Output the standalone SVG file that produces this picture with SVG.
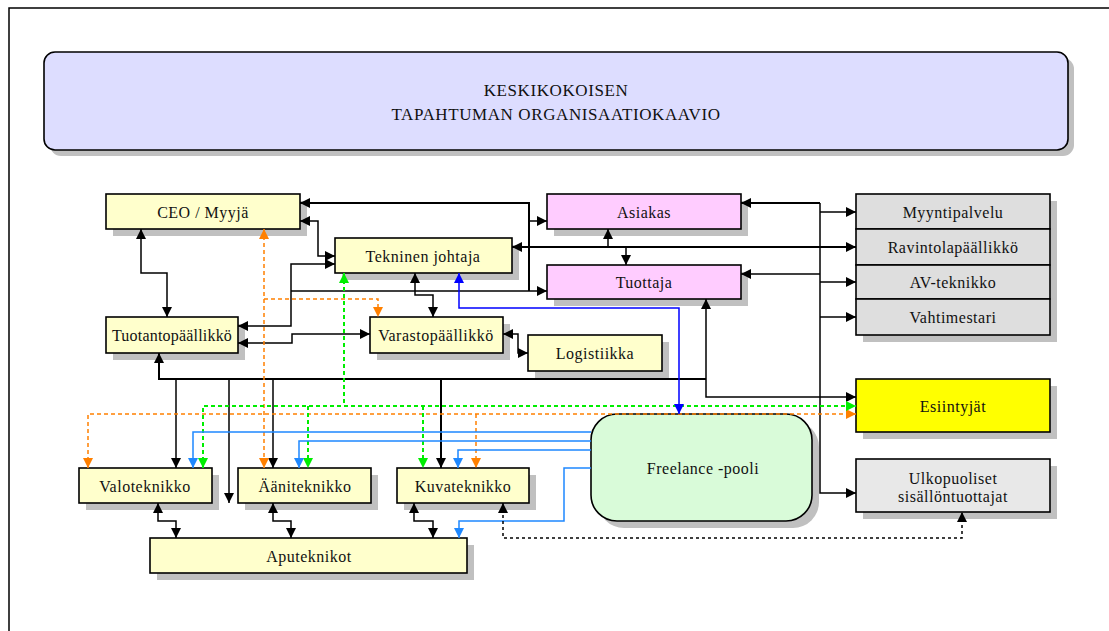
<svg xmlns="http://www.w3.org/2000/svg" width="1109" height="631" viewBox="0 0 1109 631">
<defs>
<style>
.box{stroke:#000;stroke-width:1.6}
.y{fill:#FFFFCC}
.p{fill:#FFCCFF}
.g{fill:#DEDEDE}
.lg{fill:#E8E8E8}
.sh{fill:#C0C0C0}
text{font-family:"Liberation Serif","Times New Roman",serif;font-size:16px;letter-spacing:0.5px;fill:#111;text-anchor:middle;dominant-baseline:central}
.k{fill:none;stroke:#000;stroke-width:1.5}
.k2{fill:none;stroke:#000;stroke-width:2}
.o{fill:none;stroke:#FF8000;stroke-width:1.5;stroke-dasharray:4 3}
.gr{fill:none;stroke:#00EE00;stroke-width:2;stroke-dasharray:4 3}
.b{fill:none;stroke:#1E88FF;stroke-width:1.5}
.db{fill:none;stroke:#0000FF;stroke-width:1.5}
.d{fill:none;stroke:#000;stroke-width:1.5;stroke-dasharray:3 3}
</style>
<marker id="ak" viewBox="0 0 10 10" refX="10" refY="5" markerWidth="11" markerHeight="10" markerUnits="userSpaceOnUse" orient="auto"><path d="M0,0L10,5L0,10z" fill="#000"/></marker>
<marker id="aks" viewBox="0 0 10 10" refX="0" refY="5" markerWidth="11" markerHeight="10" markerUnits="userSpaceOnUse" orient="auto"><path d="M10,0L0,5L10,10z" fill="#000"/></marker>
<marker id="ao" viewBox="0 0 10 10" refX="10" refY="5" markerWidth="11" markerHeight="10" markerUnits="userSpaceOnUse" orient="auto"><path d="M0,0L10,5L0,10z" fill="#FF8000"/></marker>
<marker id="aos" viewBox="0 0 10 10" refX="0" refY="5" markerWidth="11" markerHeight="10" markerUnits="userSpaceOnUse" orient="auto"><path d="M10,0L0,5L10,10z" fill="#FF8000"/></marker>
<marker id="ag" viewBox="0 0 10 10" refX="10" refY="5" markerWidth="11" markerHeight="10" markerUnits="userSpaceOnUse" orient="auto"><path d="M0,0L10,5L0,10z" fill="#00EE00"/></marker>
<marker id="ags" viewBox="0 0 10 10" refX="0" refY="5" markerWidth="11" markerHeight="10" markerUnits="userSpaceOnUse" orient="auto"><path d="M10,0L0,5L10,10z" fill="#00EE00"/></marker>
<marker id="ab" viewBox="0 0 10 10" refX="10" refY="5" markerWidth="11" markerHeight="10" markerUnits="userSpaceOnUse" orient="auto"><path d="M0,0L10,5L0,10z" fill="#1E88FF"/></marker>
<marker id="adb" viewBox="0 0 10 10" refX="10" refY="5" markerWidth="11" markerHeight="10" markerUnits="userSpaceOnUse" orient="auto"><path d="M0,0L10,5L0,10z" fill="#0000FF"/></marker>
<marker id="adbs" viewBox="0 0 10 10" refX="0" refY="5" markerWidth="11" markerHeight="10" markerUnits="userSpaceOnUse" orient="auto"><path d="M10,0L0,5L10,10z" fill="#0000FF"/></marker>
</defs>
<rect width="1109" height="631" fill="#fff"/>
<path d="M9,631V8H1109" fill="none" stroke="#000" stroke-width="1.5"/>

<g id="title">
<rect x="50" y="58" width="1024" height="98" rx="11" class="sh"/>
<rect x="44" y="52" width="1024" height="98" rx="11" fill="#DDDDFF" class="box"/>
<text x="556" y="90" style="font-size:17px;letter-spacing:0.6px">KESKIKOKOISEN</text>
<text x="556" y="114" style="font-size:17px;letter-spacing:0.6px">TAPAHTUMAN ORGANISAATIOKAAVIO</text>
</g>

<g id="ceo">
<rect x="113" y="201" width="194" height="35" class="sh"/>
<rect x="106" y="194" width="194" height="35" class="box y"/>
<text x="203" y="212">CEO / Myyjä</text>
</g>
<g id="tekninen">
<rect x="342" y="245" width="177" height="35" class="sh"/>
<rect x="335" y="238" width="177" height="35" class="box y"/>
<text x="423" y="256">Tekninen johtaja</text>
</g>
<g id="asiakas">
<rect x="554" y="201" width="194" height="35" class="sh"/>
<rect x="547" y="194" width="194" height="35" class="box p"/>
<text x="644" y="212">Asiakas</text>
</g>
<g id="tuottaja">
<rect x="554" y="272" width="194" height="34" class="sh"/>
<rect x="547" y="265" width="194" height="34" class="box p"/>
<text x="644" y="282">Tuottaja</text>
</g>
<g id="tuotanto">
<rect x="113" y="324" width="132" height="36" class="sh"/>
<rect x="106" y="317" width="132" height="36" class="box y"/>
<text x="172" y="335" style="letter-spacing:0.2px">Tuotantopäällikkö</text>
</g>
<g id="varasto">
<rect x="377" y="324" width="133" height="36" class="sh"/>
<rect x="370" y="317" width="133" height="36" class="box y"/>
<text x="436" y="335">Varastopäällikkö</text>
</g>
<g id="logistiikka">
<rect x="535" y="342" width="134" height="36" class="sh"/>
<rect x="528" y="335" width="134" height="36" class="box y"/>
<text x="595" y="353">Logistiikka</text>
</g>
<g id="stack-shadow">
<rect x="863" y="201" width="194" height="141" class="sh"/>
</g>
<g id="myyntipalvelu">
<rect x="856" y="194" width="194" height="35" class="box g"/>
<text x="953" y="212">Myyntipalvelu</text>
</g>
<g id="ravintola">
<rect x="856" y="229" width="194" height="36" class="box g"/>
<text x="953" y="247">Ravintolapäällikkö</text>
</g>
<g id="av">
<rect x="856" y="265" width="194" height="34" class="box g"/>
<text x="953" y="282">AV-teknikko</text>
</g>
<g id="vahtimestari">
<rect x="856" y="299" width="194" height="36" class="box g"/>
<text x="953" y="317">Vahtimestari</text>
</g>
<g id="esiintyjat">
<rect x="863" y="386" width="194" height="53" class="sh"/>
<rect x="856" y="379" width="194" height="53" class="box" fill="#FFFF00"/>
<text x="953" y="406">Esiintyjät</text>
</g>
<g id="ulkopuoliset">
<rect x="863" y="466" width="194" height="53" class="sh"/>
<rect x="856" y="459" width="194" height="53" class="box lg"/>
<text x="953" y="478">Ulkopuoliset</text>
<text x="953" y="496">sisällöntuottajat</text>
</g>
<g id="freelance">
<rect x="598" y="421" width="221" height="107" rx="26" class="sh"/>
<rect x="591" y="414" width="221" height="107" rx="26" class="box" fill="#D9FBD9"/>
<text x="703" y="468">Freelance -pooli</text>
</g>
<g id="valo">
<rect x="86" y="475" width="133" height="35" class="sh"/>
<rect x="79" y="468" width="133" height="35" class="box y"/>
<text x="145" y="486">Valoteknikko</text>
</g>
<g id="aani">
<rect x="245" y="475" width="133" height="35" class="sh"/>
<rect x="238" y="468" width="133" height="35" class="box y"/>
<text x="305" y="486">Ääniteknikko</text>
</g>
<g id="kuva">
<rect x="404" y="475" width="132" height="35" class="sh"/>
<rect x="397" y="468" width="132" height="35" class="box y"/>
<text x="463" y="486">Kuvateknikko</text>
</g>
<g id="apu">
<rect x="157" y="545" width="317" height="35" class="sh"/>
<rect x="150" y="538" width="317" height="35" class="box y"/>
<text x="309" y="556">Aputeknikot</text>
</g>

<g id="connectors">
<!-- black solid -->
<path class="k" d="M141,229V273H167V317" marker-start="url(#aks)" marker-end="url(#ak)"/>
<path class="k" d="M300,221H318V256H335" marker-start="url(#aks)" marker-end="url(#ak)"/>
<path class="k2" d="M300,203H529V291" marker-start="url(#aks)"/>
<path class="k" d="M529,221H547" marker-end="url(#ak)"/>
<path class="k" d="M291,291H547" marker-end="url(#ak)"/>
<path class="k" d="M238,326H291V264H335" marker-start="url(#aks)" marker-end="url(#ak)"/>
<path class="k" d="M238,343H292V334H370" marker-start="url(#aks)" marker-end="url(#ak)"/>
<path class="k" d="M415,273V295H433V317" marker-start="url(#aks)" marker-end="url(#ak)"/>
<path class="k" d="M503,334H518V353H528" marker-start="url(#aks)" marker-end="url(#ak)"/>
<path class="k2" d="M512,247H856" marker-start="url(#aks)" marker-end="url(#ak)"/>
<path class="k" d="M608,247V229" marker-end="url(#ak)"/>
<path class="k" d="M626,247V265" marker-end="url(#ak)"/>
<path class="k2" d="M741,203H820" marker-start="url(#aks)"/>
<path class="k" d="M820,203V493H856" marker-end="url(#ak)"/>
<path class="k" d="M820,212H856" marker-end="url(#ak)"/>
<path class="k" d="M820,282H856" marker-end="url(#ak)"/>
<path class="k" d="M820,317H856" marker-end="url(#ak)"/>
<path class="k" d="M741,274H820" marker-start="url(#aks)"/>
<path class="k2" d="M159,353V379H706" marker-start="url(#aks)"/>
<path class="k" d="M706,299V397H856" marker-start="url(#aks)" marker-end="url(#ak)"/>
<path class="k" d="M176,379V468" marker-end="url(#ak)"/>
<path class="k" d="M229,379V503" marker-end="url(#ak)"/>
<path class="k" d="M273,379V468" marker-end="url(#ak)"/>
<path class="k2" d="M441,379V468" marker-end="url(#ak)"/>
<path class="k" d="M158,503V521H176V538" marker-start="url(#aks)" marker-end="url(#ak)"/>
<path class="k" d="M273,503V521H291V538" marker-start="url(#aks)" marker-end="url(#ak)"/>
<path class="k" d="M414,503V521H433V538" marker-start="url(#aks)" marker-end="url(#ak)"/>
<!-- orange dashed -->
<path class="o" d="M264,229V468" marker-start="url(#aos)" marker-end="url(#ao)"/>
<path class="o" d="M264,299H378V317" marker-end="url(#ao)"/>
<path class="o" d="M88,468V414H856" marker-start="url(#aos)" marker-end="url(#ao)"/>
<path class="o" d="M476,414V468" marker-end="url(#ao)"/>
<!-- green dashed -->
<path class="gr" d="M344,273V406" marker-start="url(#ags)"/>
<path class="gr" d="M203,468V406H856" marker-start="url(#ags)" marker-end="url(#ag)"/>
<path class="gr" d="M308,406V468" marker-end="url(#ag)"/>
<path class="gr" d="M423,406V468" marker-end="url(#ag)"/>
<!-- blue -->
<path class="b" d="M591,432H193V468" marker-end="url(#ab)"/>
<path class="b" d="M591,441H299V468" marker-end="url(#ab)"/>
<path class="b" d="M591,450H458V468" marker-end="url(#ab)"/>
<path class="b" d="M591,468H564V521H459V538" marker-end="url(#ab)"/>
<path class="db" d="M459,273V308H679V414" marker-start="url(#adbs)" marker-end="url(#adb)"/>
<!-- dotted -->
<path class="d" d="M503,503V538H962V512" marker-start="url(#aks)" marker-end="url(#ak)"/>
</g>
</svg>
